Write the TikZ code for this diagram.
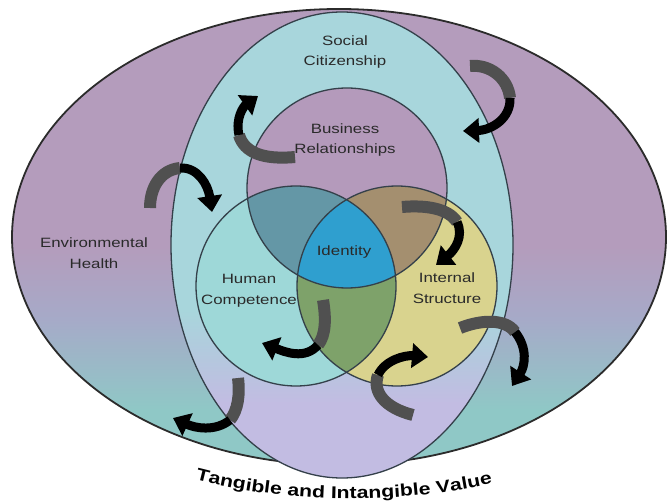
\documentclass[tikz,border=0pt]{standalone}
\usepackage{fontspec}
\newfontfamily\lblfont[FakeStretch=1.25]{Liberation Sans}
\usetikzlibrary{arrows.meta,decorations.text}
\definecolor{outerTop}{HTML}{B49CBC}
\definecolor{outerMid}{HTML}{A6AAC8}
\definecolor{outerBot}{HTML}{8FC8C6}
\definecolor{vertTop}{HTML}{A8D6DC}
\definecolor{vertMid}{HTML}{B4C8DE}
\definecolor{vertBot}{HTML}{C2BCE2}
\definecolor{bizC}{HTML}{B49ABB}
\definecolor{humC}{HTML}{9ED8D8}
\definecolor{intC}{HTML}{D9D38E}
\definecolor{bhC}{HTML}{6497A6}
\definecolor{biC}{HTML}{A48F6F}
\definecolor{hiC}{HTML}{7EA26A}
\definecolor{idC}{HTML}{2F9FCF}
\definecolor{lineC}{HTML}{34404A}
\definecolor{outlineC}{HTML}{2B2B2B}
\definecolor{txtC}{HTML}{2A2A2A}
\definecolor{tailC}{HTML}{505050}
\pgfdeclareverticalshading{outersh}{100bp}{color(0bp)=(outerBot); color(31bp)=(outerBot); color(41bp)=(outerMid); color(49bp)=(outerTop); color(100bp)=(outerTop)}
\pgfdeclareverticalshading{vertsh}{100bp}{color(0bp)=(vertBot); color(33bp)=(vertBot); color(38bp)=(vertMid); color(43bp)=(vertTop); color(100bp)=(vertTop)}
\begin{document}
\begin{tikzpicture}[x=1pt,y=-1pt,
  ring/.style={draw=lineC, line width=1.3pt},
  lbl/.style={font=\lblfont\fontsize{13.5}{20.5}\selectfont, text=txtC, align=center, inner sep=0pt},
  tailseg/.style={draw=tailC, line width=12pt},
  headseg/.style={draw=black, line width=9pt, -{Triangle[width=24pt,length=16pt]}},
]
\useasboundingbox (0,0) rectangle (668,502);
\fill[white] (0,0) rectangle (668,502);

% outer ellipse: Environmental Health
\shade[shading=outersh] (339,237) ellipse [x radius=327pt, y radius=228pt];
\draw[draw=outlineC, line width=1.8pt] (339,237) ellipse [x radius=327pt, y radius=228pt];

% vertical ellipse: Social Citizenship
\shade[shading=vertsh] (342,245) ellipse [x radius=171pt, y radius=233pt];
\draw[ring] (342,245) ellipse [x radius=171pt, y radius=233pt];

% three circles
\coordinate (cB) at (347,188);
\coordinate (cH) at (296,286);
\coordinate (cI) at (397,286);
\fill[bizC] (cB) circle[radius=100pt];
\fill[humC] (cH) circle[radius=100pt];
\fill[intC] (cI) circle[radius=100pt];
\begin{scope}
  \clip (cB) circle[radius=100pt];
  \fill[bhC] (cH) circle[radius=100pt];
  \fill[biC] (cI) circle[radius=100pt];
\end{scope}
\begin{scope}
  \clip (cH) circle[radius=100pt];
  \fill[hiC] (cI) circle[radius=100pt];
\end{scope}
\begin{scope}
  \clip (cB) circle[radius=100pt];
  \clip (cH) circle[radius=100pt];
  \fill[idC] (cI) circle[radius=100pt];
\end{scope}
\draw[ring] (cB) circle[radius=100pt];
\draw[ring] (cH) circle[radius=100pt];
\draw[ring] (cI) circle[radius=100pt];

% labels
\node[lbl] (soc) at (345,52) {Social\\Citizenship};
\node[lbl] (biz) at (345,140) {Business\\Relationships};
\node[lbl] (env) at (94,253) {Environmental\\Health};
\node[lbl] (idn) at (344,252) {Identity};
\node[lbl] (hum) at (249,291) {Human\\Competence};
\node[lbl] (int) at (447,288) {Internal\\Structure};

% curved arrows
% A
\draw[tailseg] (295,157) .. controls (262,160) and (244,152) .. (239,135);
\draw[headseg] (239,135) .. controls (235,118) and (244,106) .. (258,96);
% B
\draw[tailseg] (150,208) .. controls (150,188) and (160,170) .. (180,168);
\draw[headseg] (180,168) .. controls (198,167) and (208,185) .. (212,212);
% C
\draw[tailseg] (470,66) .. controls (490,64) and (508,78) .. (510,98);
\draw[headseg] (510,98) .. controls (511,118) and (492,130) .. (463,131);
% D
\draw[tailseg] (402,207) .. controls (425,205) and (448,208) .. (457,222);
\draw[headseg] (457,222) .. controls (464,236) and (455,250) .. (436,265);
% E
\draw[tailseg] (323,300) .. controls (326,318) and (326,335) .. (318,345);
\draw[headseg] (318,345) .. controls (305,360) and (285,352) .. (262,343);
% F
\draw[tailseg] (238,378) .. controls (240,395) and (238,410) .. (230,420);
\draw[headseg] (230,420) .. controls (215,432) and (195,428) .. (173,418);
% G
\draw[tailseg] (413,415) .. controls (385,408) and (372,392) .. (378,375);
\draw[headseg] (378,375) .. controls (385,360) and (405,355) .. (428,357);
% H
\draw[tailseg] (460,328) .. controls (480,320) and (505,318) .. (515,332);
\draw[headseg] (515,332) .. controls (528,348) and (525,366) .. (512,386);

% bottom caption along arc
\path[decorate, decoration={text along path, text align=center,
  text={|\lblfont\bfseries\fontsize{17}{20}\selectfont|Tangible and Intangible Value}}]
  (186,477) .. controls (285,505) and (405,505) .. (502,481);
\end{tikzpicture}
\end{document}
